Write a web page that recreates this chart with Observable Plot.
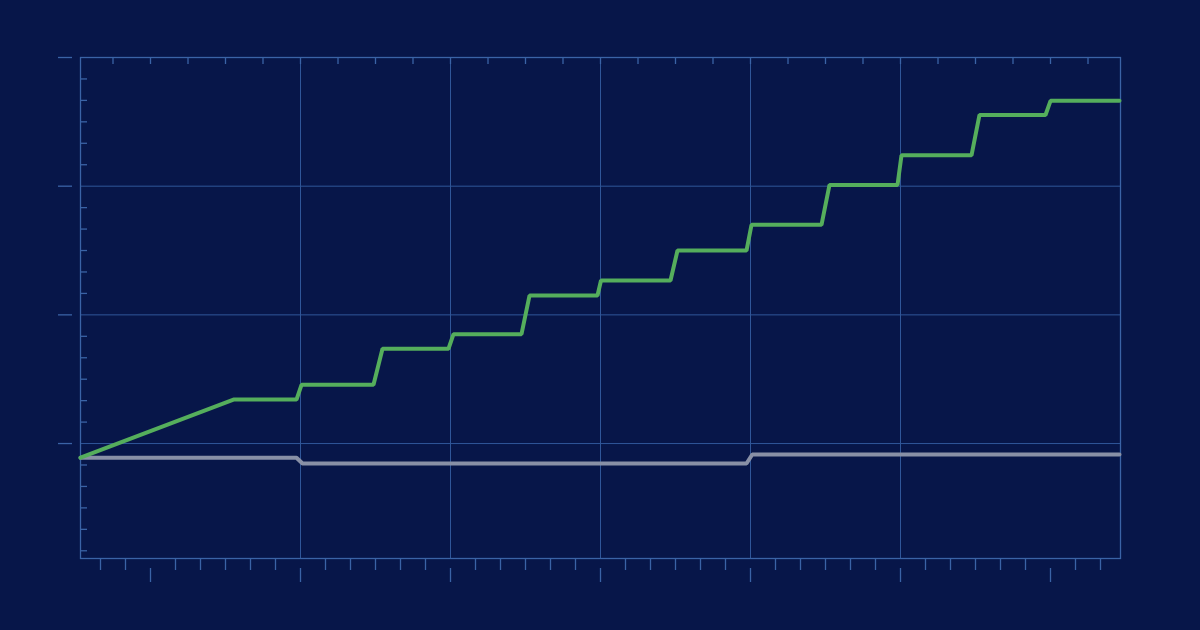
<!DOCTYPE html>
<html>
<head>
<meta charset="utf-8">
<script src="https://cdn.jsdelivr.net/npm/d3@7"></script>
<script src="https://cdn.jsdelivr.net/npm/@observablehq/plot@0.6"></script>
<style>
  html, body { margin: 0; padding: 0; background: #071649; }
  #chart { width: 1200px; height: 630px; }
</style>
</head>
<body>
<div id="chart"></div>
<script>
// Series values (x in months, y in percent)
const greenX = [3.2, 9.32, 11.84, 12.04, 14.92, 15.28, 17.92, 18.12, 20.84, 21.16, 23.88, 24.02, 26.8, 27.08, 29.84, 30.04, 32.84, 33.16, 35.88, 36.04, 38.84, 39.16, 41.8, 42.0, 44.76];
const greenY = [-3.3, 10.25, 10.25, 13.7, 13.7, 22.1, 22.1, 25.5, 25.5, 34.5, 34.5, 38.0, 38.0, 45.0, 45.0, 51.0, 51.0, 60.3, 60.3, 67.2, 67.2, 76.6, 76.6, 79.9, 79.9];
const grayX = [3.2, 11.84, 12.08, 29.84, 30.07, 44.76];
const grayY = [-3.3, -3.3, -4.66, -4.66, -2.56, -2.56];

// Tick positions
const xMinorTicks = d3.range(4, 45).filter(d => d % 6 !== 0);
const xMajorTicks = [6, 12, 18, 24, 30, 36, 42];
const xGridTicks = [12, 18, 24, 30, 36];
const xTopTicks = d3.range(4.5, 44, 1.5);
const yMajorTicks = [0, 30, 60, 90];
const yGridTicks = [0, 30, 60];
const yMinorTicks = d3.range(-25, 90, 5).filter(d => d % 30 !== 0);

const green = greenX.map((x, i) => ({x, y: greenY[i]}));
const gray = grayX.map((x, i) => ({x, y: grayY[i]}));

const lineColor = "#3a63a6";
const gridColor = "#2f5699";
const blank = () => "";

const chart = Plot.plot({
  width: 1200,
  height: 630,
  marginLeft: 80,
  marginRight: 80,
  marginTop: 57,
  marginBottom: 72,
  style: {background: "#071649"},
  x: {domain: [3.2, 44.8], label: null},
  y: {domain: [-26.8, 90], label: null},
  marks: [
    Plot.gridX(xGridTicks, {stroke: gridColor, strokeOpacity: 1, strokeWidth: 1}),
    Plot.gridY(yGridTicks, {stroke: gridColor, strokeOpacity: 1, strokeWidth: 1}),
    Plot.frame({stroke: lineColor, strokeWidth: 1.3}),
    Plot.axisX(xMinorTicks, {anchor: "bottom", label: null, tickSize: 12, tickFormat: blank, stroke: lineColor, strokeWidth: 1.3}),
    Plot.axisX(xMajorTicks, {anchor: "bottom", label: null, tickSize: 14, tickFormat: blank, stroke: lineColor, strokeWidth: 1.3, dy: 10}),
    Plot.axisX(xTopTicks, {anchor: "top", label: null, tickSize: 6, tickFormat: blank, stroke: lineColor, strokeWidth: 1.3, dy: 6}),
    Plot.axisY(yMajorTicks, {anchor: "left", label: null, tickSize: 14, tickFormat: blank, stroke: lineColor, strokeWidth: 1.3, dx: -8}),
    Plot.axisY(yMinorTicks, {anchor: "left", label: null, tickSize: 7, tickFormat: blank, stroke: lineColor, strokeWidth: 1.3, dx: 7}),
    Plot.line(gray, {x: "x", y: "y", stroke: "#8890a6", strokeWidth: 4, strokeLinejoin: "miter"}),
    Plot.line(green, {x: "x", y: "y", stroke: "#55ae5c", strokeWidth: 4, strokeLinejoin: "miter"})
  ]
});
document.getElementById("chart").appendChild(chart);
</script>
</body>
</html>
